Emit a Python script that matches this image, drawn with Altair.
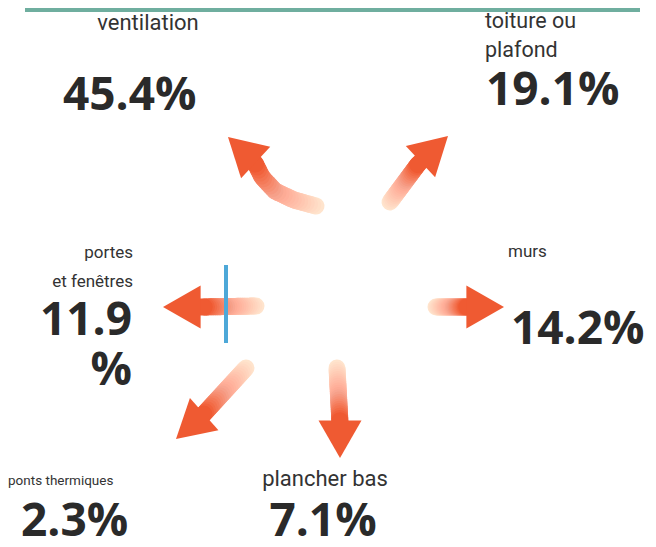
import math
import altair as alt
import pandas as pd

# ---- data ----
categories = ["ventilation", "toiture ou\nplafond", "murs", "plancher bas",
              "ponts thermiques", "portes\net fenêtres"]
values = [45.4, 19.1, 14.2, 7.1, 2.3, 11.9]
value_breaks = [False, False, False, False, False, True]  # "11.9" / "%" on two lines

# ---- layout (reference pixel coordinates) ----
label_pos = [(148, 30, "center", 22), (485, 28, "left", 21.5), (508, 257, "left", 17),
             (325, 486, "center", 22), (8, 485, "left", 13.5), (133, 258, "right", 17)]
value_pos = [(63, 110, "left"), (486, 105, "left"), (511, 344, "left"),
             (323, 536, "center"), (21, 536, "left"), (132, 335, "right")]
arrow_paths = [
    [(316, 206), (294, 200), (275, 191), (262, 177), (254, 161)],
    [(390, 202), (419, 163)],
    [(436, 307), (468, 307)],
    [(337, 368), (340, 423)],
    [(246, 368), (202, 416)],
    [(256, 306), (202, 307)],
]
arrow_tips = [(228, 137), (448, 136), (504, 307), (340, 458), (176, 439), (163, 307)]

ORANGE = "#ef5a32"
W, H = 640, 531
xs = alt.Scale(domain=[8, 8 + W])
ys = alt.Scale(domain=[8, 8 + H], reverse=True)


def X(f="x"):
    return alt.X(f"{f}:Q", scale=xs, axis=None)


def Y(f="y"):
    return alt.Y(f"{f}:Q", scale=ys, axis=None)


segs = []
for ai, path in enumerate(arrow_paths):
    lens = [0.0]
    for (x0, y0), (x1, y1) in zip(path[:-1], path[1:]):
        lens.append(lens[-1] + math.hypot(x1 - x0, y1 - y0))
    total = lens[-1]
    tx, ty = arrow_tips[ai]
    bx, by = path[-1]
    d = math.hypot(tx - bx, ty - by)
    ext = (bx + (tx - bx) / d * 6, by + (ty - by) / d * 6)

    def at(s):
        for k in range(len(path) - 1):
            if lens[k + 1] >= s:
                f = (s - lens[k]) / max(lens[k + 1] - lens[k], 1e-9)
                return (path[k][0] + f * (path[k + 1][0] - path[k][0]),
                        path[k][1] + f * (path[k + 1][1] - path[k][1]))
        return path[-1]

    N = 24
    for i in range(N):
        p0 = at(total * i / N)
        p1 = at(total * (i + 1) / N) if i < N - 1 else ext
        segs.append({"a": ai, "i": i, "x": p0[0], "y": p0[1], "x2": p1[0], "y2": p1[1],
                     "t": (i + 1) / N})
seg_df = pd.DataFrame(segs)

heads = []
S = 43.0
for ai, (tx, ty) in enumerate(arrow_tips):
    bx, by = arrow_paths[ai][-1]
    d = math.hypot(tx - bx, ty - by)
    ux, uy = (tx - bx) / d, (ty - by) / d
    ang = math.degrees(math.atan2(ux, -uy)) % 360
    heads.append({"x": tx - ux * S / 2, "y": ty - uy * S / 2, "angle": ang})
head_df = pd.DataFrame(heads)

shafts = alt.Chart(seg_df).mark_rule(strokeWidth=17, strokeCap="round").encode(
    x=X(), y=Y(), x2="x2:Q", y2="y2:Q",
    color=alt.Color("t:Q", scale=alt.Scale(domain=[0, 0.6, 1],
                                           range=["#ffffff", "#f6a48f", ORANGE]),
                    legend=None),
)

head_shape = "M0,-1L1,0.75L-1,0.75Z"
heads_layer = alt.Chart(head_df).mark_point(shape=head_shape, filled=True, opacity=1,
                                            color=ORANGE, size=S * S).encode(
    x=X(), y=Y(), angle=alt.Angle("angle:Q", scale=None),
)

blue = alt.Chart(pd.DataFrame({"x": [226], "y": [265], "y2": [343]})).mark_rule(
    color="#4da8d8", strokeWidth=4).encode(x=X(), y=Y(), y2="y2:Q")

topbar = alt.Chart(pd.DataFrame({"x": [25], "x2": [640], "y": [8], "y2": [12]})).mark_rect(
    color="#6fae9f").encode(x=X(), x2="x2:Q", y=Y(), y2="y2:Q")

lab_rows = [{"text": c, "x": p[0], "y": p[1], "align": p[2], "fs": p[3]}
            for c, p in zip(categories, label_pos)]
val_rows = []
for v, br, p in zip(values, value_breaks, value_pos):
    txt = f"{v:.1f}\n%" if br else f"{v:.1f}%"
    val_rows.append({"text": txt, "x": p[0], "y": p[1], "align": p[2]})
lab_df = pd.DataFrame(lab_rows)
val_df = pd.DataFrame(val_rows)

LFONT = "Roboto, sans-serif"
VFONT = "'Open Sans', Roboto, sans-serif"
text_layers = []
for a in ["left", "center", "right"]:
    sub = lab_df[lab_df["align"] == a]
    if len(sub):
        text_layers.append(alt.Chart(sub).mark_text(
            align=a, baseline="alphabetic", font=LFONT, color="#333333",
            lineBreak="\n", lineHeight=29).encode(
            x=X(), y=Y(), text="text:N", size=alt.Size("fs:Q", scale=None)))
    sub = val_df[val_df["align"] == a]
    if len(sub):
        text_layers.append(alt.Chart(sub).mark_text(
            align=a, baseline="alphabetic", font=VFONT, fontWeight="bold", fontSize=46,
            color="#2a2a2a", lineBreak="\n", lineHeight=50).encode(
            x=X(), y=Y(), text="text:N"))

chart = alt.layer(topbar, shafts, heads_layer, blue, *text_layers).properties(
    width=W, height=H, padding=0, autosize=alt.AutoSizeParams(type="none"),
    background="white",
).configure_view(stroke=None)

chart.save("out.html", embed_options={"renderer": "svg", "actions": False})
